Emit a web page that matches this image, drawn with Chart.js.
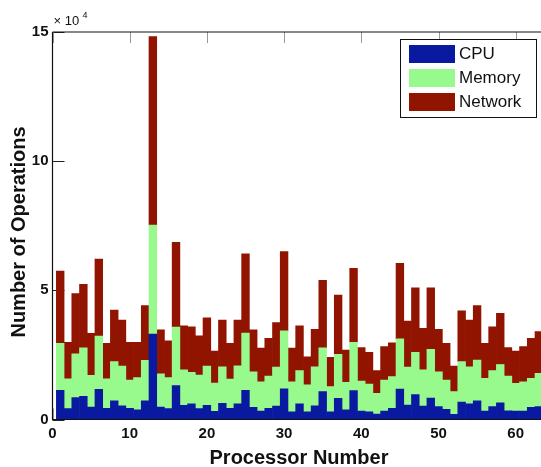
<!DOCTYPE html>
<html>
<head>
<meta charset="utf-8">
<script src="https://cdn.jsdelivr.net/npm/chart.js@4/dist/chart.umd.min.js"></script>
<style>
  html, body { margin: 0; padding: 0; background: #fff; overflow: hidden; width: 541px; height: 467px; }
  #wrap { position: relative; width: 560px; height: 467px; }
</style>
</head>
<body>
<div id="wrap"><canvas id="c" width="560" height="467"></canvas></div>
<script>
// Processor numbers 1..64
const processors = Array.from({length: 64}, (_, i) => i + 1);

// Operation counts per processor (stacked segments)
const cpuOps = [
  11300, 4200, 8500, 9000, 4800, 11700, 4300, 7200, 5300, 4300, 3700, 7200, 33100, 4800, 4200, 13100,
  5500, 6100, 4200, 5500, 3200, 6300, 4300, 6100, 11300, 4700, 3300, 4300, 5200, 11900, 3000, 6100,
  3000, 5300, 10800, 3000, 8200, 3700, 11200, 3300, 3000, 2100, 3300, 4300, 11800, 5600, 9600, 5200,
  8300, 5000, 3900, 2000, 6700, 6100, 7200, 3300, 5000, 6500, 3400, 3300, 3300, 4700, 5000, 5000
];
const memoryOps = [
  18200, 11500, 16900, 18700, 12300, 20600, 11400, 15200, 15400, 11000, 12500, 15700, 42200, 12900, 12000, 22700,
  13700, 12200, 13000, 15200, 10900, 14100, 11300, 14700, 22200, 13800, 11300, 12500, 15100, 22400, 11600, 12800,
  10400, 15100, 16900, 9700, 17000, 10700, 18700, 11600, 10700, 8000, 12000, 12300, 19400, 14700, 16400, 14000,
  18900, 13500, 11400, 8800, 15700, 14300, 15800, 12600, 13900, 14800, 13400, 10700, 11300, 11200, 12900, 13000
];
const networkOps = [
  28000, 14200, 23300, 24600, 16300, 29800, 13800, 20000, 17800, 14600, 13700, 21200, 72900, 17000, 14300, 32800,
  17100, 17600, 15200, 18700, 12400, 18100, 13900, 17700, 30600, 16200, 13000, 14600, 17200, 30700, 13000, 17400,
  10900, 14500, 26200, 11400, 23000, 12500, 28600, 12900, 12300, 8800, 12900, 13100, 29300, 17800, 25000, 16100,
  23800, 16400, 14200, 9900, 19700, 18100, 21100, 13600, 17000, 19800, 11000, 12500, 13600, 15500, 16100, 16000
];

const seriesNames = ['CPU', 'Memory', 'Network'];
const seriesColors = ['#0a1aa0', '#98fa8c', '#911400'];
const yTicks = [0, 50000, 100000, 150000];
const xTicks = [0, 10, 20, 30, 40, 50, 60];

const FONT = "'Liberation Sans', Arial, Helvetica, sans-serif";

const seriesData = [cpuOps, memoryOps, networkOps];
const datasets = seriesData.map((arr, k) => ({
  label: seriesNames[k],
  data: processors.map((p, i) => ({x: p, y: arr[i]})),
  backgroundColor: seriesColors[k],
  borderWidth: 0,
  barPercentage: 1.0,
  categoryPercentage: 1.0,
  stack: 's'
}));

const decor = {
  id: 'decor',
  beforeDatasetsDraw(chart) {
    const {ctx, chartArea: a, scales: {x, y}} = chart;
    ctx.save();
    ctx.lineWidth = 1;
    // inward ticks on left axis
    ctx.strokeStyle = '#222';
    yTicks.forEach(v => {
      const py = Math.round(y.getPixelForValue(v)) + 0.5;
      ctx.beginPath(); ctx.moveTo(a.left, py); ctx.lineTo(a.left + 12, py); ctx.stroke();
    });
    // inward ticks on top and bottom axes
    ctx.strokeStyle = '#999';
    xTicks.forEach(v => {
      const px = Math.round(x.getPixelForValue(v)) + 0.5;
      ctx.beginPath(); ctx.moveTo(px, a.top); ctx.lineTo(px, a.top + 11); ctx.stroke();
      ctx.beginPath(); ctx.moveTo(px, a.bottom); ctx.lineTo(px, a.bottom - 11); ctx.stroke();
    });
    ctx.restore();
  },
  afterDraw(chart) {
    const {ctx, chartArea: a} = chart;
    ctx.save();
    // frame: top, left and bottom lines
    ctx.strokeStyle = '#111';
    ctx.lineWidth = 1.2;
    ctx.beginPath();
    ctx.moveTo(a.left, a.top); ctx.lineTo(a.right, a.top);
    ctx.moveTo(a.left, a.top); ctx.lineTo(a.left, a.bottom);
    ctx.lineTo(a.right, a.bottom);
    ctx.stroke();

    // exponent label
    ctx.fillStyle = '#111';
    ctx.textBaseline = 'alphabetic';
    ctx.textAlign = 'left';
    ctx.font = '13px ' + FONT;
    ctx.fillText('\u00d7 10', a.left + 1, 25);
    ctx.font = '9px ' + FONT;
    ctx.fillText('4', a.left + 30, 18);

    // axis titles
    ctx.font = 'bold 20px ' + FONT;
    ctx.textAlign = 'center';
    ctx.textBaseline = 'middle';
    ctx.fillText('Processor Number', 299, 458);
    ctx.save();
    ctx.translate(19.5, 232);
    ctx.rotate(-Math.PI / 2);
    ctx.fillText('Number of Operations', 0, 0);
    ctx.restore();

    // legend
    const bx = 400.5, by = 39.5, bw = 136, bh = 78;
    ctx.fillStyle = '#fff';
    ctx.fillRect(bx, by, bw, bh);
    ctx.strokeStyle = '#111';
    ctx.lineWidth = 1;
    ctx.strokeRect(bx, by, bw, bh);
    const rows = [45, 69, 93];
    ctx.font = '17px ' + FONT;
    ctx.textAlign = 'left';
    ctx.textBaseline = 'middle';
    chart.data.datasets.forEach((ds, i) => {
      ctx.fillStyle = ds.backgroundColor;
      ctx.fillRect(409, rows[i], 46, 18);
      ctx.fillStyle = '#111';
      ctx.fillText(ds.label, 459, rows[i] + 9.5);
    });
    ctx.restore();
  }
};

new Chart(document.getElementById('c'), {
  type: 'bar',
  data: { datasets },
  options: {
    responsive: false,
    devicePixelRatio: 1,
    animation: false,
    layout: { padding: { left: 0, top: 32, right: 5.7, bottom: 0 } },
    plugins: { legend: { display: false }, tooltip: { enabled: false } },
    scales: {
      x: {
        type: 'linear',
        min: 0, max: 65,
        offset: false,
        stacked: true,
        grid: { display: false, drawTicks: false, tickLength: 0 },
        border: { display: false },
        afterBuildTicks: s => { s.ticks = xTicks.map(v => ({value: v})); },
        afterFit: s => { s.height = 47.5; },
        ticks: {
          color: '#111',
          padding: 5,
          maxRotation: 0,
          font: { family: FONT, size: 15, weight: 'bold' },
          callback: v => String(v)
        }
      },
      y: {
        min: 0, max: 150000,
        stacked: true,
        grid: { display: false, drawTicks: false, tickLength: 0 },
        border: { display: false },
        afterBuildTicks: s => { s.ticks = yTicks.map(v => ({value: v})); },
        afterFit: s => { s.width = 52.5; },
        ticks: {
          color: '#111',
          padding: 4,
          font: { family: FONT, size: 15, weight: 'bold' },
          callback: v => String(v / 10000)
        }
      }
    }
  },
  plugins: [decor]
});
</script>
</body>
</html>
